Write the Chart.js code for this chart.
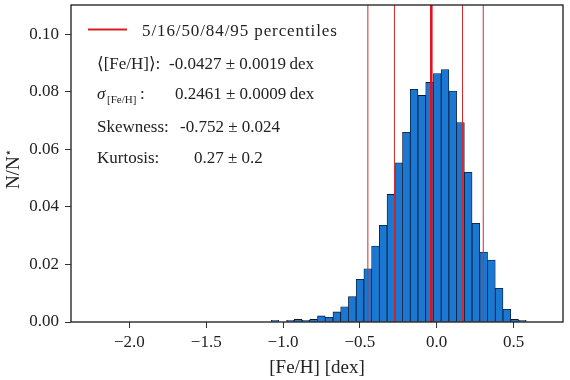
<!DOCTYPE html>
<html><head><meta charset="utf-8">
<script src="https://cdn.jsdelivr.net/npm/chart.js@4/dist/chart.umd.min.js"></script>
<style>html,body{margin:0;padding:0;background:#fff;}#wrap{width:570px;height:380px;}</style>
</head><body><div id="wrap"><canvas id="c" width="570" height="380"></canvas></div>
<script>
// ---- data ----
const binCenters = [-1.0524,-1.0021,-0.9518,-0.9015,-0.8512,-0.8009,-0.7506,-0.7003,-0.6500,-0.5997,
  -0.5494,-0.4991,-0.4488,-0.3985,-0.3482,-0.2979,-0.2476,-0.1973,-0.1470,-0.0967,
  -0.0464,0.0039,0.0542,0.1045,0.1548,0.2051,0.2554,0.3057,0.3560,0.4063,0.4566,0.5069,0.5572];
const fractions = [0.0006,0.0000,0.0006,0.0009,0.0006,0.0009,0.0021,0.0016,0.0035,0.0053,
  0.0088,0.0148,0.0185,0.0264,0.0336,0.0443,0.0553,0.0659,0.0808,0.0787,
  0.0832,0.0863,0.0877,0.0802,0.0693,0.0520,0.0343,0.0243,0.0215,0.0117,0.0044,0.0009,0.0006];
const percentileValues = [-0.448, -0.275, -0.035, 0.168, 0.303];
const medianIndex = 2;
const xTickValues = [-2.0, -1.5, -1.0, -0.5, 0.0, 0.5];
const xTickLabels = ['\u22122.0', '\u22121.5', '\u22121.0', '\u22120.5', '0.0', '0.5'];
const yTickValues = [0, 0.02, 0.04, 0.06, 0.08, 0.10];
const yTickLabels = ['0.00', '0.02', '0.04', '0.06', '0.08', '0.10'];
const xRange = [-2.38, 0.822];
const yRange = [0, 0.1101];
const xTitle = '[Fe/H] [dex]';
const yTitle = 'N/N';
const yTitleSup = '\u22C6';
const legendLabel = '5/16/50/84/95 percentiles';
const statLabels = ['\u27E8[Fe/H]\u27E9:', '\u03C3', 'Skewness:', 'Kurtosis:'];
const statValues = ['-0.0427 \u00B1 0.0019\u2009dex', '0.2461 \u00B1 0.0009\u2009dex', '-0.752 \u00B1 0.024', '0.27 \u00B1 0.2'];

const SERIF = '"Liberation Serif", "DejaVu Serif", serif';

const overlay = {
  id: 'overlay',
  afterDatasetsDraw(chart) {
    const {ctx, chartArea: a, scales: {x}} = chart;
    ctx.save();
    ctx.beginPath(); ctx.rect(a.left, a.top, a.right - a.left, a.bottom - a.top); ctx.clip();
    percentileValues.forEach((v, i) => {
      const px = x.getPixelForValue(v);
      ctx.beginPath();
      ctx.strokeStyle = i === medianIndex ? '#e3121a' : '#d22a2a';
      ctx.lineWidth = i === medianIndex ? 2.6 : 1;
      ctx.moveTo(px, a.top); ctx.lineTo(px, a.bottom); ctx.stroke();
    });
    ctx.restore();
  },
  afterDraw(chart) {
    const {ctx, chartArea: a} = chart;
    ctx.save();
    // frame
    ctx.strokeStyle = '#1a1a1a'; ctx.lineWidth = 1.3;
    ctx.strokeRect(a.left, a.top, a.right - a.left, a.bottom - a.top);
    // legend
    ctx.strokeStyle = '#d42020'; ctx.lineWidth = 2;
    ctx.beginPath(); ctx.moveTo(88, 29.5); ctx.lineTo(127, 29.5); ctx.stroke();
    ctx.fillStyle = '#222';
    ctx.textBaseline = 'alphabetic'; ctx.textAlign = 'left';
    ctx.font = '17px ' + SERIF;
    if ('letterSpacing' in ctx) ctx.letterSpacing = '0.9px';
    ctx.fillText(legendLabel, 142, 36);
    if ('letterSpacing' in ctx) ctx.letterSpacing = '0px';
    const baselines = [69, 99, 132, 163];
    const valueX = [169, 175, 180, 194];
    statLabels.forEach((lab, i) => {
      if (i === 1) {
        ctx.font = 'italic 17px ' + SERIF;
        ctx.fillText(lab, 97, baselines[i]);
        ctx.font = '11px ' + SERIF;
        ctx.fillText('[Fe/H]', 107, baselines[i] + 4);
        ctx.font = '17px ' + SERIF;
        ctx.fillText(':', 140, baselines[i]);
      } else {
        ctx.font = '17px ' + SERIF;
        ctx.fillText(lab, 97, baselines[i]);
      }
      ctx.font = '17px ' + SERIF;
      ctx.fillText(statValues[i], valueX[i], baselines[i]);
    });
    // x title
    ctx.font = '19px ' + SERIF;
    ctx.textAlign = 'center';
    ctx.fillText(xTitle, (a.left + a.right) / 2, 373);
    // y title
    ctx.translate(19, 169);
    ctx.rotate(-Math.PI / 2);
    ctx.font = '19px ' + SERIF;
    const w1 = ctx.measureText(yTitle).width;
    ctx.font = '12px "DejaVu Sans", sans-serif';
    const w2 = ctx.measureText(yTitleSup).width;
    const start = -(w1 + w2) / 2;
    ctx.textAlign = 'left';
    ctx.font = '19px ' + SERIF;
    ctx.fillText(yTitle, start, 0);
    ctx.font = '12px "DejaVu Sans", sans-serif';
    ctx.fillText(yTitleSup, start + w1, -7);
    ctx.restore();
  }
};

new Chart(document.getElementById('c'), {
  type: 'bar',
  data: {
    datasets: [{
      data: binCenters.map((c, i) => ({x: c, y: fractions[i]})),
      backgroundColor: '#1a78d2',
      borderColor: '#0b1830',
      borderWidth: 0.8,
      borderSkipped: false,
      barPercentage: 1,
      categoryPercentage: 1
    }]
  },
  options: {
    responsive: false,
    animation: false,
    devicePixelRatio: 1,
    layout: {padding: {top: 5, right: 7, left: 0, bottom: 0}},
    plugins: {legend: {display: false}, tooltip: {enabled: false}},
    scales: {
      x: {
        type: 'linear', min: xRange[0], max: xRange[1], offset: false,
        afterFit: s => { s.height = 58; s.paddingLeft = 0; s.paddingRight = 0; },
        afterBuildTicks: s => { s.ticks = xTickValues.map(v => ({value: v})); },
        grid: {display: true, offset: false, drawOnChartArea: false, drawTicks: true, tickLength: 6, color: '#333', lineWidth: 1},
        border: {display: false},
        ticks: {
          callback: (v, i) => xTickLabels[i], padding: 4, color: '#222', maxRotation: 0,
          font: {family: SERIF, size: 17}
        }
      },
      y: {
        type: 'linear', min: yRange[0], max: yRange[1],
        afterFit: s => { s.width = 71; s.paddingTop = 0; s.paddingBottom = 0; },
        afterBuildTicks: s => { s.ticks = yTickValues.map(v => ({value: v})); },
        grid: {display: true, offset: false, drawOnChartArea: false, drawTicks: true, tickLength: 6, color: '#333', lineWidth: 1},
        border: {display: false},
        ticks: {
          callback: (v, i) => yTickLabels[i], padding: 6, color: '#222',
          font: {family: SERIF, size: 17}
        }
      }
    }
  },
  plugins: [overlay]
});
</script>
</body></html>
